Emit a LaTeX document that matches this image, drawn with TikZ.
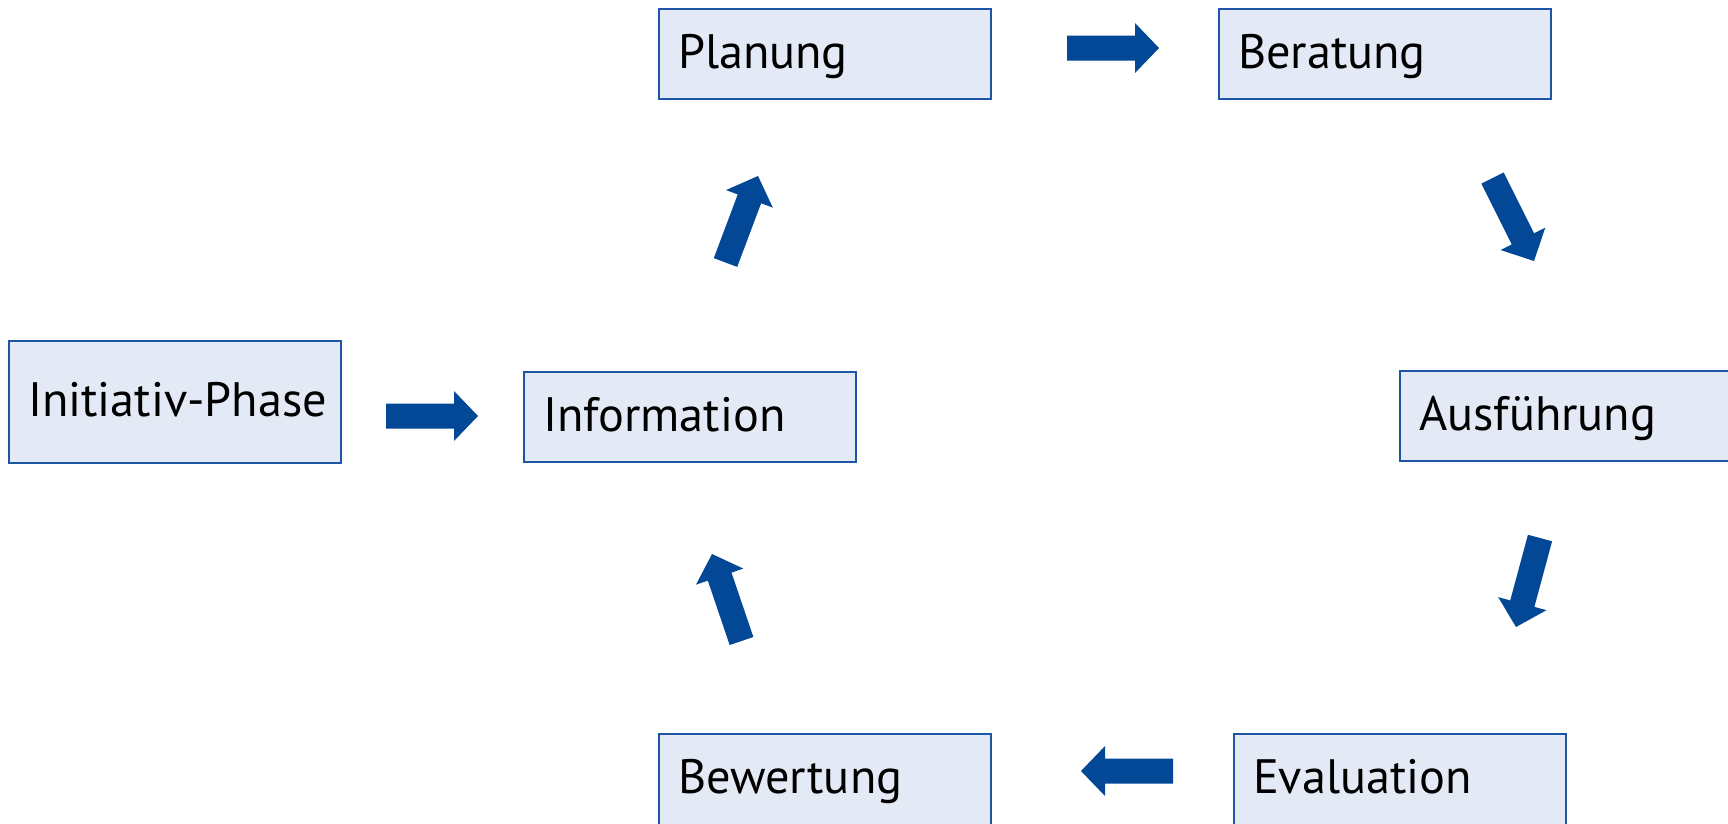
\documentclass[tikz,border=0pt]{standalone}
\usepackage{fontspec}
\setmainfont{PT Sans}
\usetikzlibrary{calc}
\definecolor{boxfill}{RGB}{228,234,245}
\definecolor{boxline}{RGB}{30,85,165}
\definecolor{arrowfill}{RGB}{3,71,151}
\newcommand{\blkarrow}[2]{%
  \coordinate (hb) at ($(#1)!68pt!(#2)$);
  \fill[arrowfill] ($(#1)!12.5pt!90:(#2)$) -- ($(hb)!12.5pt!-90:(#1)$) -- ($(hb)!25pt!-90:(#1)$) -- (#2) -- ($(hb)!25pt!90:(#1)$) -- ($(hb)!12.5pt!90:(#1)$) -- ($(#1)!12.5pt!-90:(#2)$) -- cycle;}
\tikzset{
  phasebox/.style={draw=boxline, fill=boxfill, line width=2pt, anchor=north west,
    text width=294pt, align=left, inner xsep=19pt, inner ysep=22pt,
    text height=37pt, text depth=9pt,
    font=\fontsize{48.3}{58}\selectfont},
  tallbox/.style={phasebox, text height=53pt, text depth=25pt},
  cutbox/.style={phasebox, text depth=25pt}
}
\begin{document}
\begin{tikzpicture}[x=1pt,y=-1pt]
\useasboundingbox (0,0) rectangle (1728,823);
\fill[white] (0,0) rectangle (1728,823);
% boxes
\node[tallbox] (init) at (8,340) {\mbox{Initiativ-Phase}};
\node[phasebox] (info) at (523,371) {Information};
\node[phasebox] (plan) at (658,8) {Planung};
\node[phasebox] (bera) at (1218,8) {Beratung};
\node[phasebox] (ausf) at (1399,370) {Ausführung};
\node[cutbox] (bewe) at (658,733) {Bewertung};
\node[cutbox] (eval) at (1233,733) {Evaluation};
% arrow end points
\coordinate (a1s) at (386,416);   \coordinate (a1e) at (478,416);
\coordinate (a2s) at (1067,48);   \coordinate (a2e) at (1159,48);
\coordinate (a3s) at (1492.5,178); \coordinate (a3e) at (1534,261);
\coordinate (a4s) at (1540,538);  \coordinate (a4e) at (1516,627);
\coordinate (a5s) at (1173,771);  \coordinate (a5e) at (1081,771);
\coordinate (a6s) at (741.5,641); \coordinate (a6e) at (712,554);
\coordinate (a7s) at (725.5,262.5); \coordinate (a7e) at (758,176);
\blkarrow{a1s}{a1e}
\blkarrow{a2s}{a2e}
\blkarrow{a3s}{a3e}
\blkarrow{a4s}{a4e}
\blkarrow{a5s}{a5e}
\blkarrow{a6s}{a6e}
\blkarrow{a7s}{a7e}
\end{tikzpicture}
\end{document}
